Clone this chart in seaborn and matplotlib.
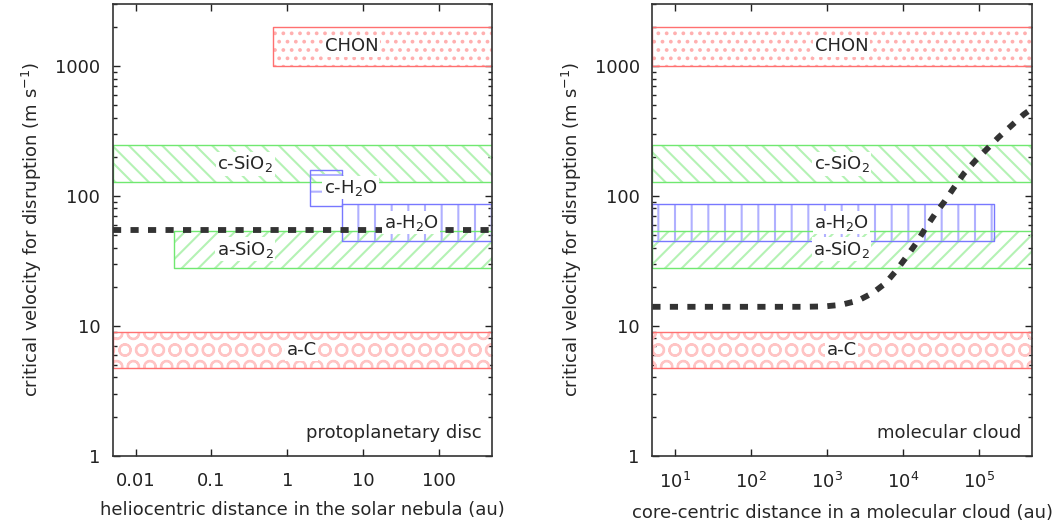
import numpy as np
import pandas as pd
import matplotlib
matplotlib.use("Agg")
import matplotlib.pyplot as plt
import seaborn as sns
from matplotlib.ticker import FixedLocator, FixedFormatter, NullLocator, LogLocator, NullFormatter

# ---------------- data ----------------
materials = ["CHON", "c-SiO$_2$", "c-H$_2$O", "a-H$_2$O", "a-SiO$_2$", "a-C"]
v_low = [1000, 127, 84, 45, 28, 4.7]
v_high = [2000, 245, 158, 86, 54, 9.0]
disc_r_min = [0.65, 0.005, 2.0, 5.2, 0.032, 0.005]
disc_r_max = [500, 500, 5.2, 500, 500, 500]
cloud_r_min = [5, 5, np.nan, 5, 5, 5]
cloud_r_max = [5e5, 5e5, np.nan, 1.6e5, 5e5, 5e5]
disc_label_r = [7.0, 0.28, 6.8, 43, 0.28, 1.55]
cloud_label_r = [1.55e3, 1.55e3, np.nan, 1.55e3, 1.55e3, 1.55e3]

disc_r = [0.005, 500]
disc_v = [55, 55]

cloud_r = [5, 100, 500, 925, 1530, 2540, 4000, 5900, 8200, 11200, 15000, 19900,
           26100, 35400, 47000, 63600, 90000, 128000, 182000, 269000, 390000, 500000]
cloud_v = [14, 14, 14, 14.1, 14.5, 15.6, 17.9, 21.3, 26.7, 34.2, 43.4, 56.7,
           71.8, 90.9, 116, 149, 187, 230, 283, 348, 424, 470]

y_ticks = [1, 10, 100, 1000]
y_ticklabels = ["1", "10", "100", "1000"]
disc_xticks = [0.01, 0.1, 1, 10, 100]
disc_xticklabels = ["0.01", "0.1", "1", "10", "100"]
cloud_xticks = [1e1, 1e2, 1e3, 1e4, 1e5]

# ---------------- style ----------------
sns.set_style("ticks")
plt.rcParams["font.family"] = ["DejaVu Sans"]
plt.rcParams["mathtext.fontset"] = "dejavusans"
plt.rcParams["hatch.linewidth"] = 1.5

RED_E, RED_H, RED_H2 = "#ff7070", "#ffb0b0", "#ffc4c4"
GRN_E, GRN_H = "#70e870", "#b4f2b4"
BLU_E, BLU_H = "#7878ff", "#b0b0ff"
styles = [
    dict(hatch="..", ec=RED_E, hc=RED_H),
    dict(hatch="\\\\", ec=GRN_E, hc=GRN_H),
    dict(hatch="-", ec=BLU_E, hc=BLU_H),
    dict(hatch="|", ec=BLU_E, hc=BLU_H),
    dict(hatch="//", ec=GRN_E, hc=GRN_H),
    dict(hatch="O", ec=RED_E, hc=RED_H2),
]
FS = 13
LINE_C = "#333333"

fig = plt.figure(figsize=(10.59, 5.25), dpi=100)
ax1 = fig.add_axes([0.1064, 0.1320, 0.3582, 0.8604])
ax2 = fig.add_axes([0.6160, 0.1320, 0.3585, 0.8604])


def draw_band(ax, r0, r1, lo, hi, st):
    if np.isnan(r0):
        return
    ax.fill_between([r0, r1], [lo, lo], [hi, hi], facecolor="none",
                    edgecolor=st["hc"], hatch=st["hatch"], linewidth=0, zorder=2)
    ax.fill_between([r0, r1], [lo, lo], [hi, hi], facecolor="none",
                    edgecolor=st["ec"], linewidth=1.0, zorder=2.5)


def setup(ax, xlim, xticks, xlabels, xlabel, region):
    ax.set_xscale("log")
    ax.set_yscale("log")
    ax.set_xlim(*xlim)
    ax.set_ylim(1, 3000)
    ax.yaxis.set_major_locator(FixedLocator(y_ticks))
    ax.yaxis.set_major_formatter(FixedFormatter(y_ticklabels))
    ax.yaxis.set_minor_locator(LogLocator(base=10, subs=np.arange(2, 10)))
    ax.yaxis.set_minor_formatter(NullFormatter())
    ax.xaxis.set_major_locator(FixedLocator(xticks))
    if xlabels is not None:
        ax.xaxis.set_major_formatter(FixedFormatter(xlabels))
    ax.xaxis.set_minor_locator(NullLocator())
    ax.tick_params(which="both", direction="in", top=True, right=True,
                   labelsize=FS, colors="#222222")
    ax.tick_params(which="major", length=5, width=1)
    ax.tick_params(axis="y", which="major", pad=9)
    ax.tick_params(axis="x", which="major", pad=12)
    ax.tick_params(which="minor", length=3, width=1)
    for s in ax.spines.values():
        s.set_color("#333333")
        s.set_linewidth(1.2)
    ax.set_xlabel(xlabel, fontsize=FS, labelpad=8)
    ax.set_ylabel("critical velocity for disruption (m s$^{-1}$)", fontsize=FS, labelpad=8)
    ax.text(0.973, 0.05, region, transform=ax.transAxes, ha="right", va="center",
            fontsize=FS, zorder=6)


bbox = dict(boxstyle="square,pad=0.08", fc="white", ec="none")

# left panel: protoplanetary disc
setup(ax1, (0.005, 500), disc_xticks, disc_xticklabels,
      "heliocentric distance in the solar nebula (au)", "protoplanetary disc")
for i, name in enumerate(materials):
    draw_band(ax1, disc_r_min[i], disc_r_max[i], v_low[i], v_high[i], styles[i])
sns.lineplot(x=disc_r, y=disc_v, ax=ax1, color=LINE_C, linewidth=4.2,
             linestyle=(0, (1.4, 1.6)), zorder=4, estimator=None, sort=False)
for i, name in enumerate(materials):
    ax1.text(disc_label_r[i], np.sqrt(v_low[i] * v_high[i]), name, ha="center",
             va="center", fontsize=FS, bbox=bbox, zorder=5)

# right panel: molecular cloud
setup(ax2, (5, 5e5), cloud_xticks, None,
      "core-centric distance in a molecular cloud (au)", "molecular cloud")
for i, name in enumerate(materials):
    draw_band(ax2, cloud_r_min[i], cloud_r_max[i], v_low[i], v_high[i], styles[i])
sns.lineplot(x=cloud_r, y=cloud_v, ax=ax2, color=LINE_C, linewidth=4.2,
             linestyle=(0, (1.4, 1.6)), zorder=4, estimator=None, sort=False)
for i, name in enumerate(materials):
    if np.isnan(cloud_label_r[i]):
        continue
    ax2.text(cloud_label_r[i], np.sqrt(v_low[i] * v_high[i]), name, ha="center",
             va="center", fontsize=FS, bbox=bbox, zorder=5)

fig.savefig("out.png", dpi=100)
